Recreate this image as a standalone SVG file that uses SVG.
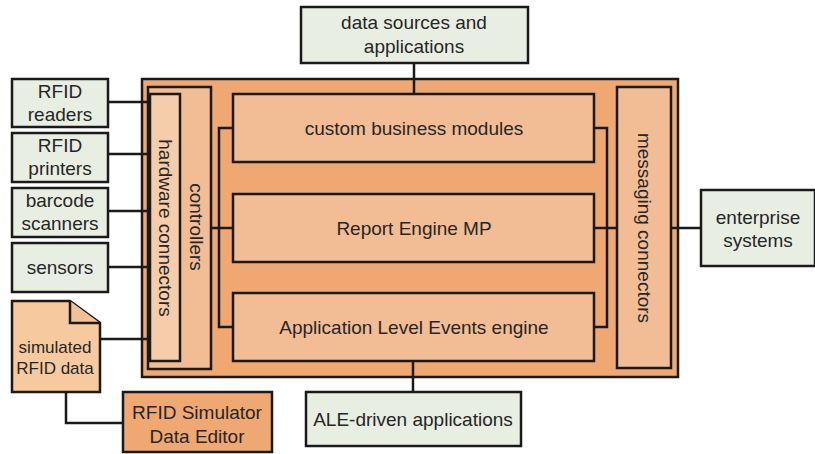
<svg xmlns="http://www.w3.org/2000/svg" width="815" height="454" viewBox="0 0 815 454">
<style>
text{font-family:"Liberation Sans",Arial,sans-serif;font-size:19px;fill:#262626;text-anchor:middle}
.s{font-size:17px}
.b{stroke:#1a1a1a;stroke-width:2.5}
.g{fill:#E9EEE3}
.o{fill:#EFA872}
.m{fill:#F2BD94}
.l{fill:#F6CDAA}
.c{fill:none;stroke:#1a1a1a;stroke-width:2.5}
</style>
<rect width="815" height="454" fill="#fff"/>
<g id="platform">
<rect class="b o" x="142" y="79" width="536" height="298"/>
</g>
<g id="controllers">
<rect class="b m" x="148" y="87" width="63" height="282"/>
<text transform="translate(196,227) rotate(90)" dominant-baseline="central">controllers</text>
</g>
<g id="hardware-connectors">
<rect class="b l" x="150" y="94" width="30" height="267"/>
<text transform="translate(165,228) rotate(90)" dominant-baseline="central">hardware connectors</text>
</g>
<g id="custom-business-modules">
<rect class="b m" x="233" y="94" width="361" height="68"/>
<text x="414" y="135">custom business modules</text>
</g>
<g id="report-engine">
<rect class="b m" x="233" y="194" width="361" height="68"/>
<text x="414" y="235">Report Engine MP</text>
</g>
<g id="ale-engine">
<rect class="b m" x="233" y="293" width="361" height="68"/>
<text x="414" y="334">Application Level Events engine</text>
</g>
<g id="messaging-connectors">
<rect class="b m" x="617" y="87" width="54" height="281"/>
<text transform="translate(644,228) rotate(90)" dominant-baseline="central">messaging connectors</text>
</g>
<g id="data-sources">
<rect class="b g" x="301" y="7" width="227" height="56"/>
<text x="414" y="29">data sources and</text>
<text x="414" y="53">applications</text>
</g>
<g id="ale-driven-applications">
<rect class="b g" x="306" y="392" width="215" height="54"/>
<text x="413" y="426">ALE-driven applications</text>
</g>
<g id="enterprise-systems">
<rect class="b g" x="701" y="190" width="114" height="76"/>
<text x="758" y="224">enterprise</text>
<text x="758" y="247">systems</text>
</g>
<g id="rfid-readers">
<rect class="b g" x="12" y="79" width="96" height="48"/>
<text x="60" y="98">RFID</text>
<text x="60" y="121">readers</text>
</g>
<g id="rfid-printers">
<rect class="b g" x="12" y="133" width="96" height="49"/>
<text x="60" y="152">RFID</text>
<text x="60" y="175">printers</text>
</g>
<g id="barcode-scanners">
<rect class="b g" x="12" y="188" width="96" height="49"/>
<text x="60" y="207">barcode</text>
<text x="60" y="230">scanners</text>
</g>
<g id="sensors">
<rect class="b g" x="12" y="243" width="96" height="49"/>
<text x="60" y="274">sensors</text>
</g>
<g id="simulated-rfid-data">
<path class="b" fill="#F6CA9E" d="M12,301 H70 L100,323 V392 H12 Z"/>
<path class="b" fill="#F3C197" d="M70,301 V323 H100"/>
<text class="s" x="55" y="353">simulated</text>
<text class="s" x="55" y="374">RFID data</text>
</g>
<g id="rfid-simulator-data-editor">
<rect class="b o" x="123" y="392" width="149" height="60"/>
<text x="197" y="419">RFID Simulator</text>
<text x="197" y="443">Data Editor</text>
</g>
<g id="connectors">
<path class="c" d="M108,102 H150 M108,154 H150 M108,211 H150 M108,267 H150 M100,339 H150"/>
<path class="c" d="M66,392 V423 H123"/>
<path class="c" d="M233,128 H219 V327 H233 M211,228 H233"/>
<path class="c" d="M594,128 H607 V327 H594 M594,228 H617"/>
<path class="c" d="M671,228 H701"/>
<path class="c" d="M414,63 V94"/>
<path class="c" d="M413,361 V392"/>
</g>
</svg>
